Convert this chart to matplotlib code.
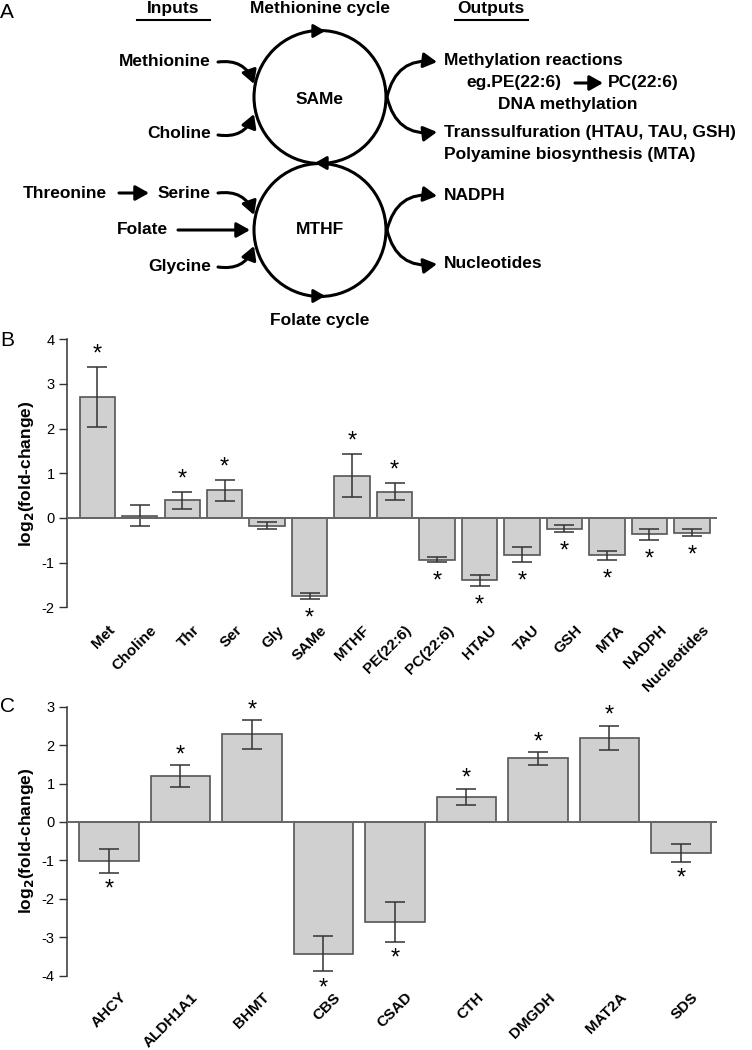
import matplotlib
matplotlib.use("Agg")
import matplotlib.pyplot as plt
from matplotlib.patches import Ellipse, FancyArrowPatch
import matplotlib.transforms as mtransforms

plt.rcParams['font.family'] = ['Liberation Sans', 'DejaVu Sans']
plt.rcParams['axes.unicode_minus'] = False

# ---------------- data ----------------
b_labels = ["Met", "Choline", "Thr", "Ser", "Gly", "SAMe", "MTHF", "PE(22:6)", "PC(22:6)",
            "HTAU", "TAU", "GSH", "MTA", "NADPH", "Nucleotides"]
b_values = [2.71, 0.05, 0.40, 0.62, -0.17, -1.75, 0.95, 0.59, -0.93, -1.40, -0.82, -0.24, -0.84, -0.37, -0.33]
b_errors = [0.67, 0.23, 0.19, 0.23, 0.085, 0.07, 0.48, 0.19, 0.055, 0.125, 0.165, 0.075, 0.10, 0.13, 0.08]
b_signif = [True, False, True, True, False, True, True, True, True, True, True, True, True, True, True]

c_labels = ["AHCY", "ALDH1A1", "BHMT", "CBS", "CSAD", "CTH", "DMGDH", "MAT2A", "SDS"]
c_values = [-1.01, 1.19, 2.28, -3.43, -2.61, 0.65, 1.66, 2.19, -0.81]
c_errors = [0.31, 0.29, 0.37, 0.46, 0.52, 0.22, 0.165, 0.32, 0.235]
c_signif = [True] * 9

W, H = 752, 1050
fig = plt.figure(figsize=(W / 100, H / 100), dpi=100)

# ---------------- panel A (diagram, pixel coordinates) ----------------
ax0 = fig.add_axes([0, 0, 1, 1])
ax0.set_xlim(0, W)
ax0.set_ylim(H, 0)
ax0.axis('off')

fs = 12.5
def t(x, y, s, ha='left', **kw):
    ax0.text(x, y, s, ha=ha, va='center', fontsize=fs, fontweight='bold', **kw)

ax0.text(0, 12, "A", fontsize=15, va='center', ha='left')
ax0.text(0, 341, "B", fontsize=15, va='center', ha='left')
ax0.text(0, 706, "C", fontsize=15, va='center', ha='left')

t(173, 8, "Inputs", ha='center')
ax0.plot([137, 210], [20, 20], color='k', lw=1.5)
t(320, 8, "Methionine cycle", ha='center')
t(491, 8, "Outputs", ha='center')
ax0.plot([455, 528], [20, 20], color='k', lw=1.5)

for cy in (97, 230):
    ax0.add_patch(Ellipse((320, cy), 132, 133, fill=False, lw=2.2, color='k'))

def head(x, y, dx):
    ax0.annotate("", xy=(x + dx, y), xytext=(x - dx, y),
                 arrowprops=dict(arrowstyle='-|>,head_length=0.7,head_width=0.4', color='k', lw=2))
head(322, 31, 6)
head(318, 163, -6)
head(322, 296, 6)

t(320, 99, "SAMe", ha='center')
t(320, 230, "MTHF", ha='center')

def carrow(p0, p1, rad):
    ax0.add_patch(FancyArrowPatch(p0, p1, connectionstyle=f"arc3,rad={rad}",
                                  arrowstyle='-|>,head_length=8,head_width=4.5', color='k', lw=2.2,
                                  shrinkA=0, shrinkB=0))

t(211, 62, "Methionine", ha='right')
carrow((218, 62), (254, 84), -0.4)
t(211, 134, "Choline", ha='right')
carrow((218, 135), (254, 114), 0.4)

t(23, 193, "Threonine")
carrow((119, 193), (149, 193), 0)
t(211, 193, "Serine", ha='right')
carrow((218, 193), (254, 215), -0.4)
t(168, 230, "Folate", ha='right')
carrow((178, 230), (250, 230), 0)
t(211, 266, "Glycine", ha='right')
carrow((218, 267), (254, 246), 0.4)

carrow((387, 97), (437, 62), -0.45)
carrow((387, 97), (437, 132), 0.45)
carrow((387, 230), (437, 196), -0.45)
carrow((387, 230), (437, 264), 0.45)

t(444, 60, "Methylation reactions")
t(466, 83, "eg.PE(22:6)")
carrow((575, 83), (603, 83), 0)
t(608, 83, "PC(22:6)")
t(568, 105, "DNA methylation", ha='center')
t(444, 132, "Transsulfuration (HTAU, TAU, GSH)")
t(444, 155, "Polyamine biosynthesis (MTA)")
t(444, 196, "NADPH")
t(444, 263, "Nucleotides")
t(320, 320, "Folate cycle", ha='center')

# ---------------- bar panels ----------------
def bar_panel(rect, labels, values, errors, signif, ylim, xlim, star_off, label_pad):
    ax = fig.add_axes(rect)
    x = list(range(len(labels)))
    ax.bar(x, values, width=0.83, color='#d0d0d0', edgecolor='#555555', linewidth=1.2, zorder=2)
    ax.errorbar(x, values, yerr=errors, fmt='none', ecolor='#333333', elinewidth=1.1,
                capsize=7, capthick=1.1, zorder=3)
    ax.axhline(0, color='#666666', lw=1.4, zorder=4)
    for xi, v, e, s in zip(x, values, errors, signif):
        if not s:
            continue
        if v >= 0:
            ax.annotate("*", (xi, v + e), xytext=(0, star_off), textcoords='offset points',
                        ha='center', va='center', fontsize=17, zorder=5)
        else:
            ax.annotate("*", (xi, v - e), xytext=(0, -star_off - 5), textcoords='offset points',
                        ha='center', va='center', fontsize=17, zorder=5)
    ax.set_ylim(*ylim)
    ax.set_xlim(*xlim)
    for sp in ('top', 'right', 'bottom'):
        ax.spines[sp].set_visible(False)
    ax.spines['left'].set_color('#333333')
    ax.spines['left'].set_linewidth(1.1)
    ax.set_yticks(range(ylim[0], ylim[1] + 1))
    ax.tick_params(axis='y', length=6, width=1, labelsize=10.5, color='#333333', pad=3)
    ax.tick_params(axis='x', length=0, pad=label_pad)
    ax.set_xticks(x)
    ax.set_xticklabels(labels, rotation=45, ha='right', va='center', rotation_mode='anchor',
                       fontsize=11, fontweight='bold')
    off = mtransforms.ScaledTranslation(0.15, 0, fig.dpi_scale_trans)
    for lab in ax.get_xticklabels():
        lab.set_transform(lab.get_transform() + off)
    ax.set_ylabel("log$_\\mathbf{2}$(fold-change)", fontsize=12.5, fontweight='bold', labelpad=4)
    ax.patch.set_alpha(0)
    return ax

bar_panel([67 / W, 1 - 607.3 / H, 650 / W, 268 / H], b_labels, b_values, b_errors, b_signif,
          (-2, 4), (-0.71, 14.59), 9, 15)
bar_panel([67 / W, 1 - 975.7 / H, 650 / W, 269 / H], c_labels, c_values, c_errors, c_signif,
          (-4, 3), (-0.586, 8.505), 7, 14)

fig.savefig("out.png", dpi=100)
